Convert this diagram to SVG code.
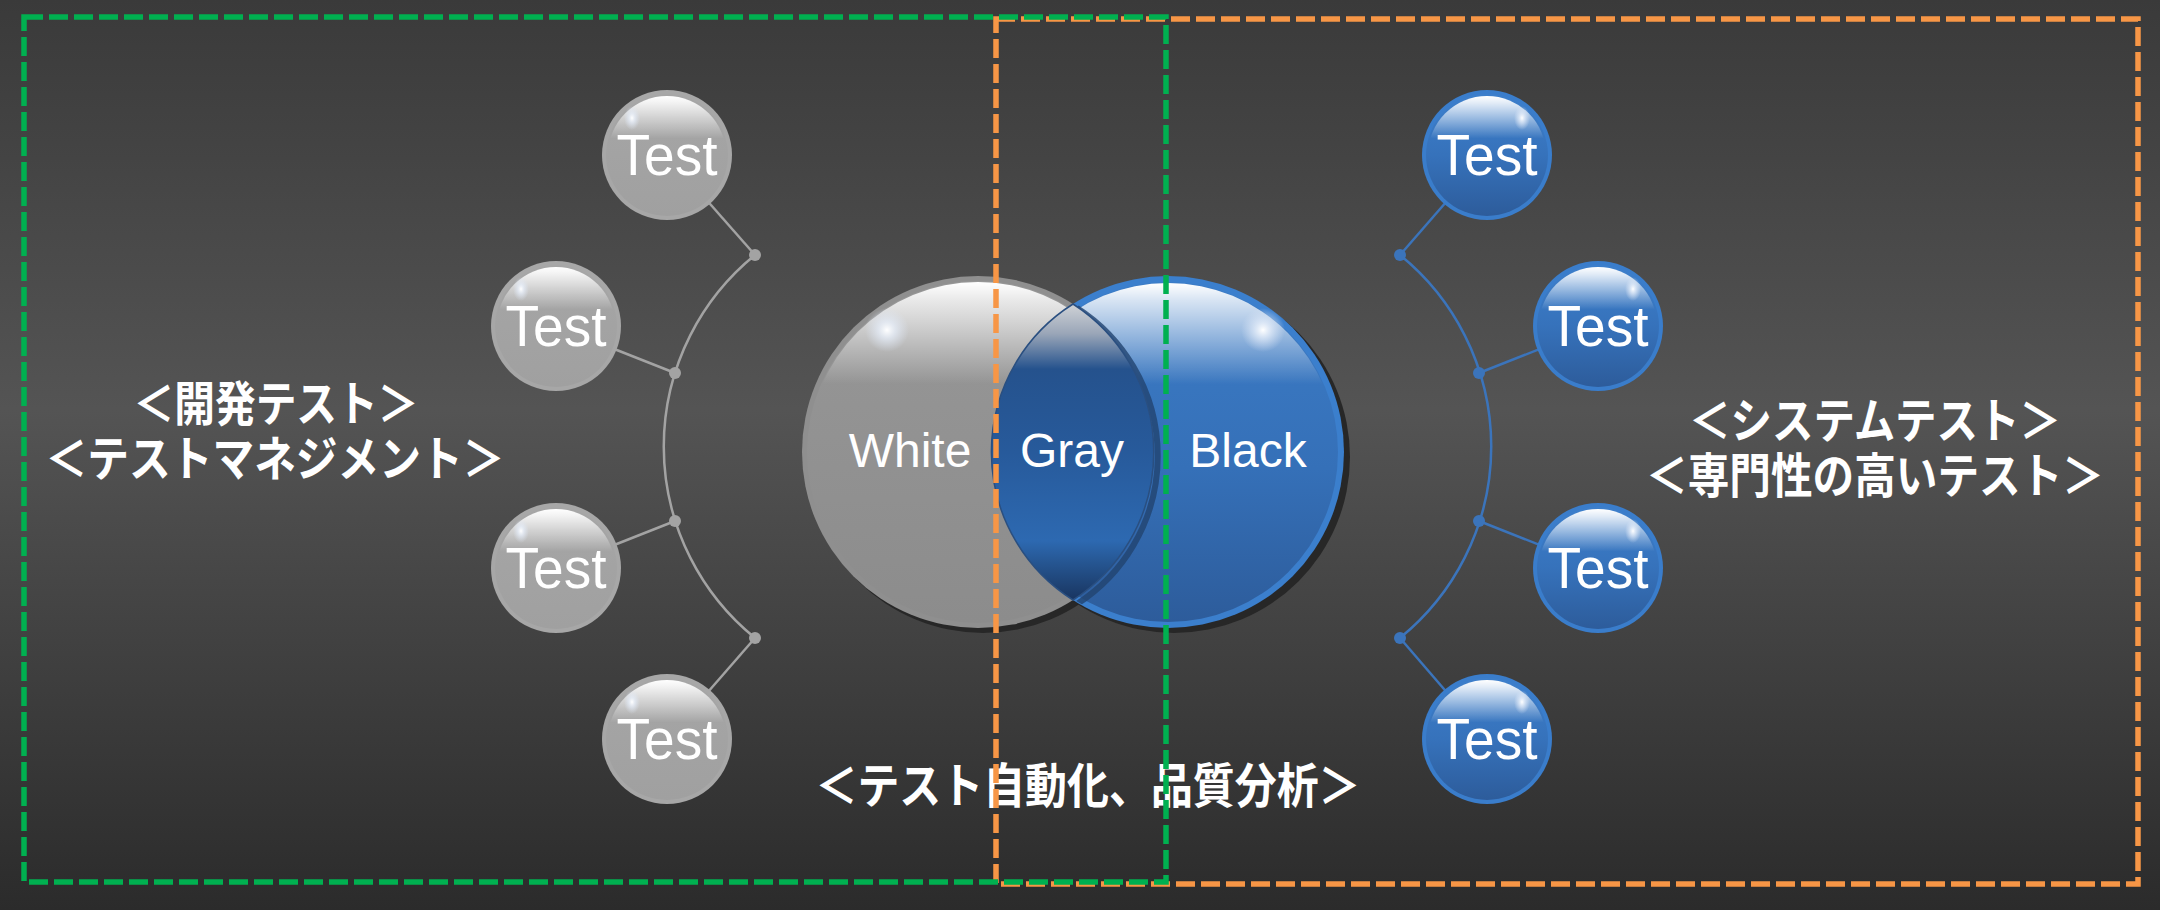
<svg xmlns="http://www.w3.org/2000/svg" width="2160" height="910" viewBox="0 0 2160 910">
  <defs>
    <linearGradient id="bg" x1="0" y1="0" x2="0" y2="1">
      <stop offset="0" stop-color="#3a3a3a"/>
      <stop offset="0.45" stop-color="#545454"/>
      <stop offset="1" stop-color="#2b2b2b"/>
    </linearGradient>
    <linearGradient id="grayBody" x1="0" y1="0" x2="0" y2="1">
      <stop offset="0" stop-color="#a6a6a6"/>
      <stop offset="1" stop-color="#a0a0a0"/>
    </linearGradient>
    <linearGradient id="blueBody" x1="0" y1="0" x2="0" y2="1">
      <stop offset="0" stop-color="#3d7fcb"/>
      <stop offset="0.5" stop-color="#3672bb"/>
      <stop offset="1" stop-color="#2d5c9b"/>
    </linearGradient>
    <linearGradient id="bigGrayBody" x1="0" y1="0" x2="0" y2="1">
      <stop offset="0" stop-color="#979797"/>
      <stop offset="1" stop-color="#8c8c8c"/>
    </linearGradient>
    <linearGradient id="bigBlueBody" x1="0" y1="0" x2="0" y2="1">
      <stop offset="0" stop-color="#3c7cc6"/>
      <stop offset="0.55" stop-color="#3570b8"/>
      <stop offset="1" stop-color="#2d5c9b"/>
    </linearGradient>
    <linearGradient id="gloss" x1="0" y1="0" x2="0" y2="1">
      <stop offset="0" stop-color="#ffffff" stop-opacity="1"/>
      <stop offset="0.06" stop-color="#ffffff" stop-opacity="0.85"/>
      <stop offset="0.36" stop-color="#ffffff" stop-opacity="0"/>
      <stop offset="1" stop-color="#ffffff" stop-opacity="0"/>
    </linearGradient>
    <linearGradient id="bigGloss" x1="0" y1="0" x2="0" y2="1">
      <stop offset="0" stop-color="#ffffff" stop-opacity="1"/>
      <stop offset="0.05" stop-color="#ffffff" stop-opacity="0.8"/>
      <stop offset="0.3" stop-color="#ffffff" stop-opacity="0"/>
      <stop offset="1" stop-color="#ffffff" stop-opacity="0"/>
    </linearGradient>
    <radialGradient id="spot" cx="0.5" cy="0.5" r="0.5">
      <stop offset="0" stop-color="#ffffff" stop-opacity="1"/>
      <stop offset="0.4" stop-color="#e6eefa" stop-opacity="0.7"/>
      <stop offset="1" stop-color="#dde6f5" stop-opacity="0"/>
    </radialGradient>
    <linearGradient id="lens" x1="0" y1="0" x2="0" y2="1">
      <stop offset="0" stop-color="#cfd2d6"/>
      <stop offset="0.1" stop-color="#9aa6b8"/>
      <stop offset="0.22" stop-color="#25528d"/>
      <stop offset="0.5" stop-color="#275a9b"/>
      <stop offset="0.8" stop-color="#2d69b1"/>
      <stop offset="0.88" stop-color="#25548f"/>
      <stop offset="1" stop-color="#193560"/>
    </linearGradient>
    <clipPath id="blueClip">
      <circle cx="1168" cy="452" r="175"/>
    </clipPath>
    <style>
      .ring-g { fill: #a7a7a7; }
      .ring-b { fill: #3a7dcb; }
      .body-g { fill: url(#grayBody); }
      .body-b { fill: url(#blueBody); }
      .gloss { fill: url(#gloss); }
      .spot { fill: url(#spot); }
      .test { font-family: "Liberation Sans", Arial, sans-serif; font-size: 57px; fill: #ffffff; text-anchor: middle; }
      .big { font-family: "Liberation Sans", Arial, sans-serif; font-size: 48px; fill: #ffffff; text-anchor: middle; }
      .jp { font-family: "Noto Sans CJK JP", "Noto Sans", sans-serif; font-weight: bold; font-size: 48px; fill: #ffffff; text-anchor: middle; }
      .conn-g { stroke: #a3a3a3; stroke-width: 2.5; fill: none; }
      .conn-b { stroke: #3b74bb; stroke-width: 2.5; fill: none; }
      .dot-g { fill: #a3a3a3; }
      .dot-b { fill: #3b74bb; }
      .dash { fill: none; stroke-width: 5.5; stroke-dasharray: 19 6; }
    </style>
  </defs>

  <rect x="0" y="0" width="2160" height="910" fill="url(#bg)"/>

  <g id="connectors">
    <path class="conn-g" d="M 755 255 A 246.6 246.6 0 0 0 755 638"/>
    <line class="conn-g" x1="755" y1="255" x2="667" y2="155"/>
    <line class="conn-g" x1="675" y1="373" x2="556" y2="326"/>
    <line class="conn-g" x1="675" y1="521" x2="556" y2="568"/>
    <line class="conn-g" x1="755" y1="638" x2="667" y2="739"/>
    <circle class="dot-g" cx="755" cy="255" r="6"/>
    <circle class="dot-g" cx="675" cy="373" r="6"/>
    <circle class="dot-g" cx="675" cy="521" r="6"/>
    <circle class="dot-g" cx="755" cy="638" r="6"/>
    <path class="conn-b" d="M 1400 255 A 246.6 246.6 0 0 1 1400 638"/>
    <line class="conn-b" x1="1400" y1="255" x2="1487" y2="155"/>
    <line class="conn-b" x1="1479" y1="373" x2="1598" y2="326"/>
    <line class="conn-b" x1="1479" y1="521" x2="1598" y2="568"/>
    <line class="conn-b" x1="1400" y1="638" x2="1487" y2="739"/>
    <circle class="dot-b" cx="1400" cy="255" r="6"/>
    <circle class="dot-b" cx="1479" cy="373" r="6"/>
    <circle class="dot-b" cx="1479" cy="521" r="6"/>
    <circle class="dot-b" cx="1400" cy="638" r="6"/>
  </g>

  <g id="test-g1">
    <circle class="ring-g" cx="667" cy="155" r="65"/>
    <circle class="body-g" cx="667" cy="155" r="61"/>
    <circle class="gloss" cx="667" cy="155" r="59"/>
    <ellipse class="spot" cx="632" cy="118" rx="8" ry="12"/>
    <text class="test" x="667" y="175" textLength="101" lengthAdjust="spacingAndGlyphs">Test</text>
  </g>
  <g id="test-g2">
    <circle class="ring-g" cx="556" cy="326" r="65"/>
    <circle class="body-g" cx="556" cy="326" r="61"/>
    <circle class="gloss" cx="556" cy="326" r="59"/>
    <ellipse class="spot" cx="521" cy="289" rx="8" ry="12"/>
    <text class="test" x="556" y="346" textLength="101" lengthAdjust="spacingAndGlyphs">Test</text>
  </g>
  <g id="test-g3">
    <circle class="ring-g" cx="556" cy="568" r="65"/>
    <circle class="body-g" cx="556" cy="568" r="61"/>
    <circle class="gloss" cx="556" cy="568" r="59"/>
    <ellipse class="spot" cx="521" cy="531" rx="8" ry="12"/>
    <text class="test" x="556" y="588" textLength="101" lengthAdjust="spacingAndGlyphs">Test</text>
  </g>
  <g id="test-g4">
    <circle class="ring-g" cx="667" cy="739" r="65"/>
    <circle class="body-g" cx="667" cy="739" r="61"/>
    <circle class="gloss" cx="667" cy="739" r="59"/>
    <ellipse class="spot" cx="632" cy="702" rx="8" ry="12"/>
    <text class="test" x="667" y="759" textLength="101" lengthAdjust="spacingAndGlyphs">Test</text>
  </g>

  <g id="test-b1">
    <circle class="ring-b" cx="1487" cy="155" r="65"/>
    <circle class="body-b" cx="1487" cy="155" r="61"/>
    <circle class="gloss" cx="1487" cy="155" r="59"/>
    <ellipse class="spot" cx="1522" cy="118" rx="8" ry="12"/>
    <text class="test" x="1487" y="175" textLength="101" lengthAdjust="spacingAndGlyphs">Test</text>
  </g>
  <g id="test-b2">
    <circle class="ring-b" cx="1598" cy="326" r="65"/>
    <circle class="body-b" cx="1598" cy="326" r="61"/>
    <circle class="gloss" cx="1598" cy="326" r="59"/>
    <ellipse class="spot" cx="1633" cy="289" rx="8" ry="12"/>
    <text class="test" x="1598" y="346" textLength="101" lengthAdjust="spacingAndGlyphs">Test</text>
  </g>
  <g id="test-b3">
    <circle class="ring-b" cx="1598" cy="568" r="65"/>
    <circle class="body-b" cx="1598" cy="568" r="61"/>
    <circle class="gloss" cx="1598" cy="568" r="59"/>
    <ellipse class="spot" cx="1633" cy="531" rx="8" ry="12"/>
    <text class="test" x="1598" y="588" textLength="101" lengthAdjust="spacingAndGlyphs">Test</text>
  </g>
  <g id="test-b4">
    <circle class="ring-b" cx="1487" cy="739" r="65"/>
    <circle class="body-b" cx="1487" cy="739" r="61"/>
    <circle class="gloss" cx="1487" cy="739" r="59"/>
    <ellipse class="spot" cx="1522" cy="702" rx="8" ry="12"/>
    <text class="test" x="1487" y="759" textLength="101" lengthAdjust="spacingAndGlyphs">Test</text>
  </g>

  <g id="venn">
    <circle cx="983" cy="457" r="176" fill="#272727"/>
    <circle cx="1174" cy="457" r="176" fill="#272727"/>
    <g id="white-circle">
      <circle cx="978" cy="452" r="176" fill="#8f8f8f"/>
      <circle cx="978" cy="452" r="171" fill="url(#bigGrayBody)"/>
      <circle cx="978" cy="452" r="170" fill="url(#bigGloss)"/>
      <circle class="spot" cx="887" cy="330" r="22"/>
    </g>
    <g id="black-circle">
      <circle cx="1168" cy="452" r="176" fill="#3b7fcd"/>
      <circle cx="1168" cy="452" r="170" fill="url(#bigBlueBody)"/>
      <circle cx="1168" cy="452" r="169" fill="url(#bigGloss)"/>
      <circle class="spot" cx="1263" cy="330" r="22"/>
    </g>
    <g id="gray-lens">
      <path d="M 1077 308 A 176 176 0 0 1 1077 604" fill="none" stroke="#22436f" stroke-width="6" stroke-opacity="0.8" clip-path="url(#blueClip)"/>
      <path d="M 1073 304 A 176 176 0 0 1 1073 600 A 175 175 0 0 1 1073 304 Z" fill="url(#lens)" stroke="#2a4f80" stroke-width="1.5"/>
    </g>
    <text class="big" x="910" y="467">White</text>
    <text class="big" x="1072" y="467">Gray</text>
    <text class="big" x="1248" y="467">Black</text>
  </g>

  <g id="label-left">
    <text class="jp" x="276" y="421" textLength="285" lengthAdjust="spacingAndGlyphs">＜開発テスト＞</text>
    <text class="jp" x="275" y="476" textLength="459" lengthAdjust="spacingAndGlyphs">＜テストマネジメント＞</text>
  </g>
  <g id="label-right">
    <text class="jp" x="1875" y="438" textLength="372" lengthAdjust="spacingAndGlyphs">＜システムテスト＞</text>
    <text class="jp" x="1875" y="493" textLength="458" lengthAdjust="spacingAndGlyphs">＜専門性の高いテスト＞</text>
  </g>
  <g id="label-bottom">
    <text class="jp" x="1088" y="803" textLength="545" lengthAdjust="spacingAndGlyphs">＜テスト自動化、品質分析＞</text>
  </g>

  <g id="regions">
    <rect class="dash" x="996" y="19" width="1142" height="865" stroke="#f79646"/>
    <rect class="dash" x="24" y="17" width="1142" height="865" stroke="#00b050"/>
  </g>
</svg>
